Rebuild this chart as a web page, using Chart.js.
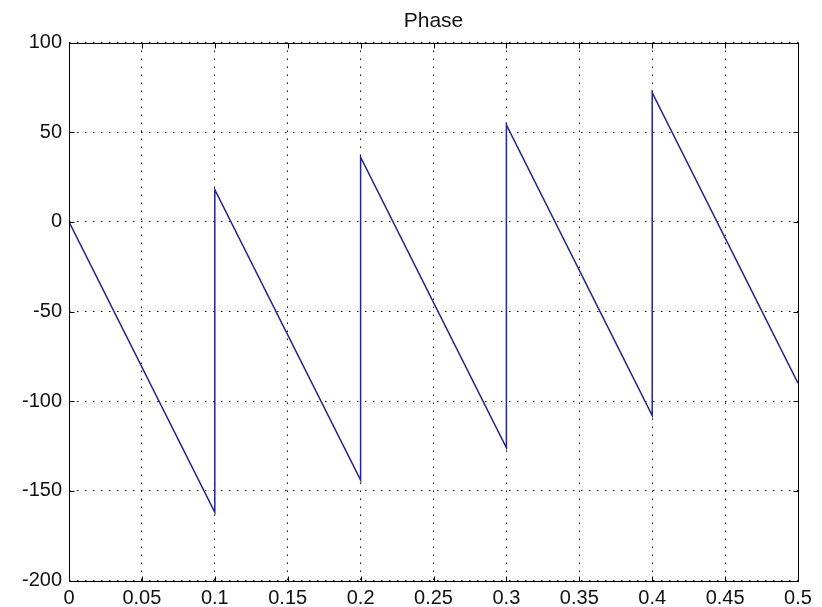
<!DOCTYPE html>
<html>
<head>
<meta charset="utf-8">
<script src="https://cdn.jsdelivr.net/npm/chart.js@4/dist/chart.umd.min.js"></script>
<style>
html,body{margin:0;padding:0;background:#fff;}
#wrap{width:822px;height:607px;position:relative;}
</style>
</head>
<body>
<div id="wrap"><canvas id="c" width="822" height="607"></canvas></div>
<script>
// Data
const titleText = "Phase";
const phaseX = [0, 0.1, 0.1, 0.2, 0.2, 0.3, 0.3, 0.4, 0.4, 0.5];
const phaseY = [0, -162, 18, -144, 36, -126, 54, -108, 72, -90];
const xTicks = [0, 0.05, 0.1, 0.15, 0.2, 0.25, 0.3, 0.35, 0.4, 0.45, 0.5];
const xTickLabels = ["0", "0.05", "0.1", "0.15", "0.2", "0.25", "0.3", "0.35", "0.4", "0.45", "0.5"];
const yTicks = [-200, -150, -100, -50, 0, 50, 100];
const yTickLabels = ["-200", "-150", "-100", "-50", "0", "50", "100"];

const points = phaseX.map((x, i) => ({x: x, y: phaseY[i]}));
const FONT = "'Liberation Sans', Arial, sans-serif";

const boxPlugin = {
  id: 'boxPlugin',
  afterDraw(chart) {
    const ctx = chart.ctx;
    const a = chart.chartArea;
    const xs = chart.scales.x, ys = chart.scales.y;
    ctx.save();
    ctx.strokeStyle = '#000';
    ctx.lineWidth = 1;
    ctx.setLineDash([]);
    ctx.beginPath();
    const L = Math.round(a.left) + 0.5, R = Math.round(a.right) + 0.5;
    const T = Math.round(a.top) + 0.5, B = Math.round(a.bottom) + 0.5;
    ctx.rect(L, T, R - L, B - T);
    const tl = 5;
    xs.ticks.forEach(t => {
      const px = Math.round(xs.getPixelForValue(t.value)) + 0.5;
      ctx.moveTo(px, B); ctx.lineTo(px, B - tl);
      ctx.moveTo(px, T); ctx.lineTo(px, T + tl);
    });
    ys.ticks.forEach(t => {
      const py = Math.round(ys.getPixelForValue(t.value)) + 0.5;
      ctx.moveTo(L, py); ctx.lineTo(L + tl, py);
      ctx.moveTo(R, py); ctx.lineTo(R - tl, py);
    });
    ctx.stroke();
    ctx.restore();
  }
};

new Chart(document.getElementById('c'), {
  type: 'scatter',
  data: {
    datasets: [{
      data: points,
      showLine: true,
      borderColor: '#24248f',
      borderWidth: 1.5,
      pointRadius: 0,
      pointHoverRadius: 0,
      fill: false,
      tension: 0
    }]
  },
  options: {
    responsive: false,
    animation: false,
    events: [],
    layout: { padding: { left: 0, right: 24, top: 0, bottom: 0 } },
    plugins: {
      legend: { display: false },
      tooltip: { enabled: false },
      title: {
        display: true,
        text: titleText,
        fullSize: false,
        color: '#111',
        font: { family: FONT, size: 21, weight: 'normal', lineHeight: 1.2 },
        padding: { top: 8.5, bottom: 8.8 }
      }
    },
    scales: {
      x: {
        type: 'linear',
        min: 0, max: 0.5,
        afterBuildTicks(scale) { scale.ticks = xTicks.map(v => ({value: v})); },
        afterFit(scale) { scale.height = 26.5; },
        ticks: {
          color: '#111',
          font: { family: FONT, size: 20 },
          padding: 6,
          maxRotation: 0,
          autoSkip: false,
          callback(value) { const i = xTicks.indexOf(value); return i >= 0 ? xTickLabels[i] : ''; }
        },
        grid: { color: '#000', lineWidth: 1, drawTicks: false },
        border: { display: false, dash: [1.5, 6.5] }
      },
      y: {
        type: 'linear',
        min: -200, max: 100,
        afterBuildTicks(scale) { scale.ticks = yTicks.map(v => ({value: v})); },
        afterFit(scale) { scale.width = 69; },
        ticks: {
          color: '#111',
          font: { family: FONT, size: 20 },
          padding: 7,
          autoSkip: false,
          callback(value) { const i = yTicks.indexOf(value); return i >= 0 ? yTickLabels[i] : ''; }
        },
        grid: { color: '#000', lineWidth: 1, drawTicks: false },
        border: { display: false, dash: [1.5, 6.5] }
      }
    }
  },
  plugins: [boxPlugin]
});
</script>
</body>
</html>
